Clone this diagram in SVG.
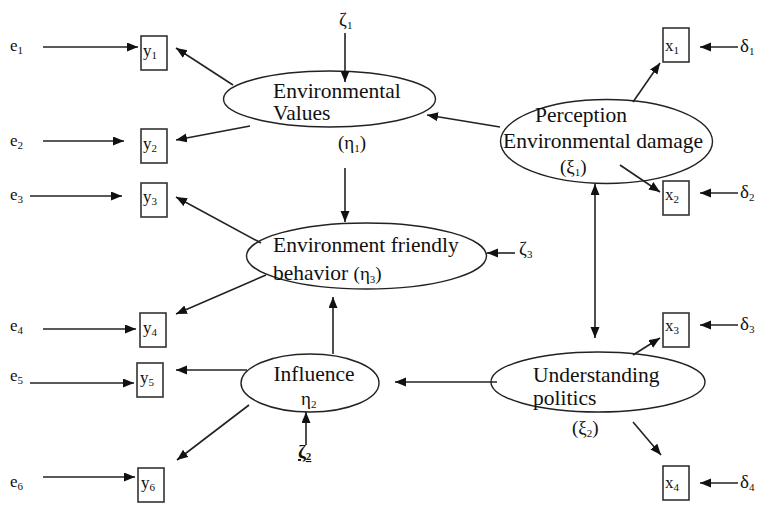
<svg xmlns="http://www.w3.org/2000/svg" width="760" height="505" viewBox="0 0 760 505" font-family="'Liberation Serif', 'Times New Roman', serif">
<defs>
<marker id="ah" markerUnits="userSpaceOnUse" markerWidth="12" markerHeight="10" refX="11" refY="4.5" orient="auto-start-reverse">
<path d="M0,0 L11,4.5 L0,9 z" fill="#111"/>
</marker>
<style>
.t{font-family:'Liberation Serif','Times New Roman',serif;fill:#111;}
.big{font-size:21.5px;}
.lab{font-size:17px;}
.gr{font-size:19px;}
.sub{font-size:11px;}
.box{fill:#fff;stroke:#333;stroke-width:1.6;}
.ell{fill:#fff;stroke:#222;stroke-width:1.4;}
.c line{stroke:#222;stroke-width:1.6;marker-end:url(#ah);}
</style>
</defs>
<rect width="760" height="505" fill="#fff"/>

<g id="EV">
<ellipse class="ell" cx="329.5" cy="99" rx="106" ry="28"/>
<text class="t big" x="273" y="98">Environmental</text>
<text class="t big" x="273" y="120">Values</text>
<text class="t gr" x="338" y="149">(η<tspan class="sub" dy="3">1</tspan><tspan dy="-3">)</tspan></text>
</g>
<g id="PED">
<ellipse class="ell" cx="606.5" cy="141.5" rx="106" ry="42"/>
<text class="t big" x="535" y="122">Perception</text>
<text class="t big" x="503" y="148">Environmental damage</text>
<text class="t gr" x="560" y="173">(ξ<tspan class="sub" dy="3">1</tspan><tspan dy="-3">)</tspan></text>
</g>
<g id="EFB">
<ellipse class="ell" cx="366.5" cy="256" rx="120" ry="33"/>
<text class="t big" x="273" y="252">Environment friendly</text>
<text class="t big" x="273" y="280">behavior  <tspan class="gr">(η<tspan class="sub" dy="3">3</tspan><tspan dy="-3">)</tspan></tspan></text>
</g>
<g id="INF">
<ellipse class="ell" cx="310" cy="383" rx="69" ry="29"/>
<text class="t big" x="314" y="381" text-anchor="middle">Influence</text>
<text class="t gr" x="301" y="405">η<tspan class="sub" dy="3">2</tspan></text>
</g>
<g id="UP">
<ellipse class="ell" cx="598" cy="382" rx="107" ry="30"/>
<text class="t big" x="533" y="382">Understanding</text>
<text class="t big" x="533" y="405">politics</text>
<text class="t gr" x="572" y="434">(ξ<tspan class="sub" dy="3">2</tspan><tspan dy="-3">)</tspan></text>
</g>

<g id="y1"><rect class="box" x="141" y="36" width="26" height="34"/><text class="t lab" x="143" y="56">y<tspan class="sub" dy="3">1</tspan></text></g>
<g id="y2"><rect class="box" x="141" y="129" width="26" height="34"/><text class="t lab" x="143" y="149">y<tspan class="sub" dy="3">2</tspan></text></g>
<g id="y3"><rect class="box" x="141" y="183" width="26" height="34"/><text class="t lab" x="143" y="202">y<tspan class="sub" dy="3">3</tspan></text></g>
<g id="y4"><rect class="box" x="140" y="313" width="26" height="34"/><text class="t lab" x="143" y="333">y<tspan class="sub" dy="3">4</tspan></text></g>
<g id="y5"><rect class="box" x="137" y="363" width="26" height="34"/><text class="t lab" x="140" y="383">y<tspan class="sub" dy="3">5</tspan></text></g>
<g id="y6"><rect class="box" x="138" y="468" width="26" height="34"/><text class="t lab" x="141" y="488">y<tspan class="sub" dy="3">6</tspan></text></g>

<g id="x1"><rect class="box" x="663" y="28" width="26" height="34"/><text class="t lab" x="665" y="51">x<tspan class="sub" dy="3">1</tspan></text></g>
<g id="x2"><rect class="box" x="663" y="181" width="26" height="34"/><text class="t lab" x="665" y="200">x<tspan class="sub" dy="3">2</tspan></text></g>
<g id="x3"><rect class="box" x="663" y="313" width="26" height="34"/><text class="t lab" x="665" y="331">x<tspan class="sub" dy="3">3</tspan></text></g>
<g id="x4"><rect class="box" x="663" y="466" width="26" height="34"/><text class="t lab" x="665" y="488">x<tspan class="sub" dy="3">4</tspan></text></g>

<g id="errors">
<text class="t lab" x="10" y="51">e<tspan class="sub" dy="3">1</tspan></text>
<text class="t lab" x="10" y="146">e<tspan class="sub" dy="3">2</tspan></text>
<text class="t lab" x="10" y="200">e<tspan class="sub" dy="3">3</tspan></text>
<text class="t lab" x="10" y="331">e<tspan class="sub" dy="3">4</tspan></text>
<text class="t lab" x="10" y="381">e<tspan class="sub" dy="3">5</tspan></text>
<text class="t lab" x="10" y="487">e<tspan class="sub" dy="3">6</tspan></text>
<text class="t gr" x="740" y="52">δ<tspan class="sub" dy="3">1</tspan></text>
<text class="t gr" x="740" y="198">δ<tspan class="sub" dy="3">2</tspan></text>
<text class="t gr" x="740" y="330">δ<tspan class="sub" dy="3">3</tspan></text>
<text class="t gr" x="740" y="488">δ<tspan class="sub" dy="3">4</tspan></text>
<text class="t gr" x="339" y="26">ζ<tspan class="sub" dy="3">1</tspan></text>
<text class="t gr" x="519" y="255">ζ<tspan class="sub" dy="3">3</tspan></text>
<text class="t gr" x="298" y="458" font-weight="bold" text-decoration="underline">ζ<tspan class="sub" dy="2">2</tspan></text>
</g>

<g id="connectors" class="c">
<line x1="43" y1="47" x2="138" y2="47"/>
<line x1="43" y1="141" x2="124" y2="141"/>
<line x1="30" y1="196" x2="122" y2="196"/>
<line x1="43" y1="329" x2="136" y2="329"/>
<line x1="30" y1="383" x2="134" y2="383"/>
<line x1="43" y1="477" x2="135" y2="477"/>
<line x1="233" y1="85" x2="176" y2="48"/>
<line x1="250" y1="126" x2="176" y2="140"/>
<line x1="345" y1="33" x2="345" y2="82"/>
<line x1="500" y1="127" x2="427" y2="115"/>
<line x1="345" y1="168" x2="345" y2="222"/>
<line x1="261" y1="243" x2="176" y2="197"/>
<line x1="266" y1="275" x2="176" y2="314"/>
<line x1="515" y1="253" x2="487" y2="253"/>
<line x1="333" y1="354" x2="333" y2="297"/>
<line x1="247" y1="370" x2="176" y2="370"/>
<line x1="249" y1="405" x2="177" y2="460"/>
<line x1="306" y1="445" x2="306" y2="412"/>
<line x1="497" y1="382" x2="395" y2="382"/>
<line x1="633" y1="355" x2="660" y2="338"/>
<line x1="633" y1="422" x2="661" y2="455"/>
<line x1="595" y1="260" x2="595" y2="184"/>
<line x1="595" y1="260" x2="595" y2="338"/>
<line x1="633" y1="102" x2="660" y2="63"/>
<line x1="620" y1="165" x2="660" y2="192"/>
<line x1="738" y1="47" x2="700" y2="47"/>
<line x1="738" y1="193" x2="700" y2="193"/>
<line x1="738" y1="325" x2="700" y2="325"/>
<line x1="738" y1="483" x2="700" y2="483"/>
</g>
</svg>
